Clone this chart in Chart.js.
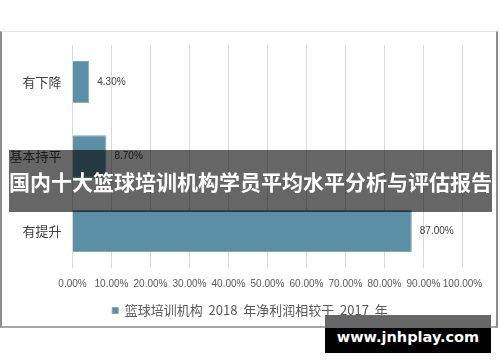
<!DOCTYPE html>
<html>
<head>
<meta charset="utf-8">
<script src="https://cdn.jsdelivr.net/npm/chart.js@4/dist/chart.umd.min.js"></script>
<style>
  html, body { margin: 0; padding: 0; background: #fff; }
  #wrap { position: relative; width: 500px; height: 362px; overflow: hidden; }
  #frame {
    position: absolute; left: 0; top: 31px; width: 494px; height: 294px;
    border-left: 2px solid #8c8c8c; border-right: 2px solid #8c8c8c;
    border-top: 1px solid #e6e6e6; border-bottom: 2px solid #a6a6a6;
  }
  #mychart { position: absolute; left: 0; top: 0; }
  .title {
    position: absolute; left: 9px; top: 150px; width: 483px; height: 62px;
    background: rgba(0, 0, 0, 0.6); color: #fff;
    font: bold 21px "Noto Sans CJK SC", sans-serif; line-height: 62px;
    text-align: center; white-space: nowrap; padding-bottom: 4px; box-sizing: border-box;
  }
  .site {
    position: absolute; left: 325px; top: 315px; width: 166px; height: 38px;
    background: linear-gradient(#666 0, #666 13px, #000 13px);
    color: #fff; font: bold 14.5px "DejaVu Sans", sans-serif;
    line-height: 44px; text-align: center; white-space: nowrap;
  }
</style>
</head>
<body>
<div id="wrap">
  <div id="frame"></div>
  <canvas id="mychart" width="500" height="362"></canvas>
  <div class="title">国内十大篮球培训机构学员平均水平分析与评估报告</div>
  <div class="site">www.jnhplay.com</div>
</div>
<script>
// 数据
const categories = ['有下降', '基本持平', '有提升'];
const values = [4.3, 8.7, 87.0];
const seriesName = '篮球培训机构  2018  年净利润相较于  2017  年';
const xMin = 0;
const xMax = 100;
const xStep = 10;

const barColor = '#5b8fa6';

// 数值标签
const valueLabels = {
  id: 'valueLabels',
  afterDatasetsDraw(chart) {
    const ctx = chart.ctx;
    ctx.save();
    ctx.font = '10px "Liberation Sans", Arial, sans-serif';
    ctx.fillStyle = '#404040';
    ctx.textBaseline = 'middle';
    ctx.textAlign = 'left';
    chart.getDatasetMeta(0).data.forEach((bar, i) => {
      ctx.fillText(values[i].toFixed(2) + '%', bar.x + 8, bar.y);
    });
    ctx.restore();
  }
};

new Chart(document.querySelector('#mychart'), {
  type: 'bar',
  data: {
    labels: categories,
    datasets: [
      {
        label: seriesName,
        data: values,
        backgroundColor: barColor,
        borderColor: '#7da8bc',
        borderWidth: 1,
        barPercentage: 0.57,
        categoryPercentage: 1
      }
    ]
  },
  options: {
    indexAxis: 'y',
    responsive: false,
    animation: false,
    layout: { padding: { left: 0, right: 0, top: 45, bottom: 35 } },
    scales: {
      x: {
        min: xMin,
        max: xMax,
        grid: { color: '#d9d9d9', drawTicks: false },
        border: { display: false },
        afterFit(scale) { scale.height = 30; },
        ticks: {
          stepSize: xStep,
          padding: 10,
          color: '#595959',
          font: { family: '"Liberation Sans", Arial, sans-serif', size: 10 },
          maxRotation: 0,
          autoSkip: false,
          callback: (v) => v.toFixed(2) + '%'
        }
      },
      y: {
        grid: { display: false, drawTicks: false },
        border: { display: false },
        afterFit(scale) { scale.width = 72.5; },
        ticks: {
          padding: 11,
          color: '#404040',
          font: { family: '"Noto Sans CJK SC", sans-serif', size: 13 }
        }
      },
      // 右侧留白
      yRight: {
        position: 'right',
        grid: { display: false, drawTicks: false },
        border: { display: false },
        ticks: { display: false },
        afterFit(scale) { scale.width = 37.5; }
      }
    },
    plugins: {
      legend: {
        position: 'bottom',
        labels: {
          boxWidth: 6,
          boxHeight: 6,
          padding: 6,
          color: '#595959',
          font: { family: '"Noto Sans CJK SC", sans-serif', size: 13 }
        }
      },
      tooltip: { enabled: false }
    }
  },
  plugins: [valueLabels]
});
</script>
</body>
</html>
